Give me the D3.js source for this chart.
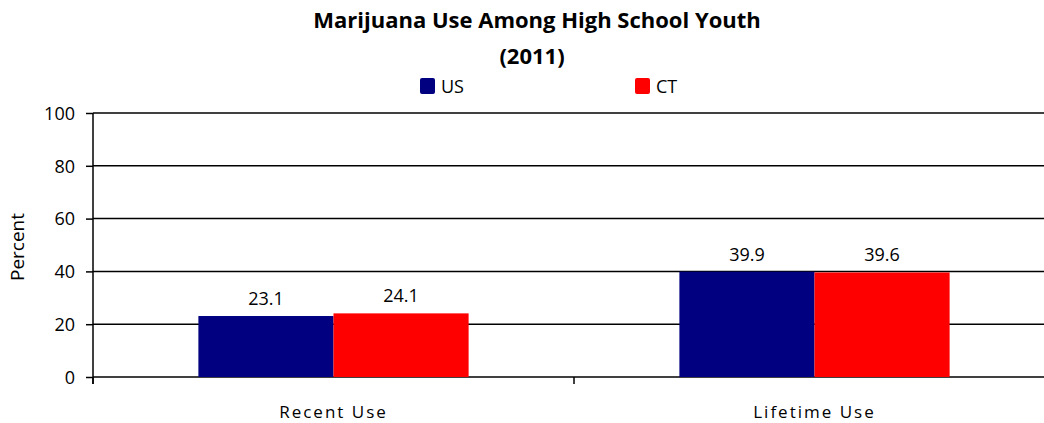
<html lang="en">
  <head>
    <title>marijuana-use</title>
    <script src="https://d3js.org/d3.v7.min.js"></script>
    <style>
      body { margin: 0; background: #fff; }
      svg text { font-family: 'Open Sans', sans-serif; fill: #000; }
      .grid line { stroke: #000; stroke-width: 1.5; }
      .axis path, .axis line { stroke: #000; stroke-width: 1.5; }
    </style>
  </head>
  <body>
    <svg id="chart" width="1044" height="423"></svg>
    <script>

      const categories = ['Recent Use', 'Lifetime Use']
      const seriesNames = ['US', 'CT']
      const usValues = [23.1, 39.9]
      const ctValues = [24.1, 39.6]
      const yTicks = [0, 20, 40, 60, 80, 100]
      const colors = { US: '#000080', CT: '#ff0000' }

      const svg = d3.select('#chart')
      const margin = { left: 93, top: 113, right: -11, bottom: 46 }
      const width = +svg.attr('width')
      const height = +svg.attr('height')

      const x = d3.scaleBand()
        .domain(categories)
        .range([margin.left, width - margin.right])
        .paddingInner(0)
        .paddingOuter(0)

      const x1 = d3.scaleBand()
        .domain(seriesNames)
        .range([0, x.bandwidth()])
        .paddingInner(0)
        .paddingOuter(0.78)

      const y = d3.scaleLinear()
        .domain([0, 100])
        .range([height - margin.bottom, margin.top])

      // gridlines
      svg.append('g').attr('class', 'grid')
        .selectAll('line')
        .data(yTicks)
        .join('line')
        .attr('x1', margin.left)
        .attr('x2', width)
        .attr('y1', d => y(d))
        .attr('y2', d => y(d))

      const rows = categories.map((c, i) => ({ cat: c, US: usValues[i], CT: ctValues[i] }))

      const groups = svg.append('g')
        .selectAll('g')
        .data(rows)
        .join('g')
        .attr('transform', d => `translate(${x(d.cat)},0)`)

      groups.selectAll('rect')
        .data(d => seriesNames.map(s => ({ s, v: d[s] })))
        .join('rect')
        .attr('x', d => x1(d.s))
        .attr('width', x1.bandwidth())
        .attr('y', d => y(d.v))
        .attr('height', d => y(0) - y(d.v))
        .attr('fill', d => colors[d.s])

      groups.selectAll('text')
        .data(d => seriesNames.map(s => ({ s, v: d[s] })))
        .join('text')
        .attr('x', d => x1(d.s) + x1.bandwidth() / 2)
        .attr('y', d => y(d.v) - 11)
        .attr('text-anchor', 'middle')
        .style('font-size', '18px')
        .text(d => d.v.toFixed(1))

      // y axis
      const yAxis = svg.append('g').attr('class', 'axis')
        .attr('transform', `translate(${margin.left},0)`)
        .call(d3.axisLeft(y).tickValues(yTicks).tickSize(7).tickPadding(11))
      yAxis.select('.domain').attr('d', `M0,${y(100)}V${y(0) + 7}`)
      yAxis.selectAll('text').style('font-size', '18px').attr('dy', '0.35em')

      // x axis ticks at band boundaries
      svg.append('g').attr('class', 'axis')
        .selectAll('line')
        .data(categories)
        .join('line')
        .attr('x1', d => x(d))
        .attr('x2', d => x(d))
        .attr('y1', y(0))
        .attr('y2', y(0) + 7)

      svg.append('g')
        .selectAll('text')
        .data(categories)
        .join('text')
        .attr('x', d => x(d) + x.bandwidth() / 2)
        .attr('y', 418)
        .attr('text-anchor', 'middle')
        .style('font-size', '17px')
        .style('letter-spacing', '2px')
        .text(d => d)

      svg.append('text')
        .attr('transform', `translate(24,${(y(0) + y(100)) / 2 + 2}) rotate(-90)`)
        .attr('text-anchor', 'middle')
        .style('font-size', '19px')
        .text('Percent')

      // title
      svg.append('text')
        .attr('x', 537).attr('y', 28)
        .attr('text-anchor', 'middle')
        .style('font-size', '22px').style('font-weight', 'bold')
        .text('Marijuana Use Among High School Youth')
      svg.append('text')
        .attr('x', 532).attr('y', 64)
        .attr('text-anchor', 'middle')
        .style('font-size', '22px').style('font-weight', 'bold')
        .text('(2011)')

      // legend
      const legendX = [420, 635]
      const legend = svg.append('g')
        .selectAll('g')
        .data(seriesNames)
        .join('g')
        .attr('transform', (d, i) => `translate(${legendX[i]},78)`)
      legend.append('rect')
        .attr('width', 15).attr('height', 16).attr('rx', 2)
        .attr('fill', d => colors[d])
      legend.append('text')
        .attr('x', 21).attr('y', 15)
        .style('font-size', '18px')
        .text(d => d)
    </script>
  </body>
</html>
